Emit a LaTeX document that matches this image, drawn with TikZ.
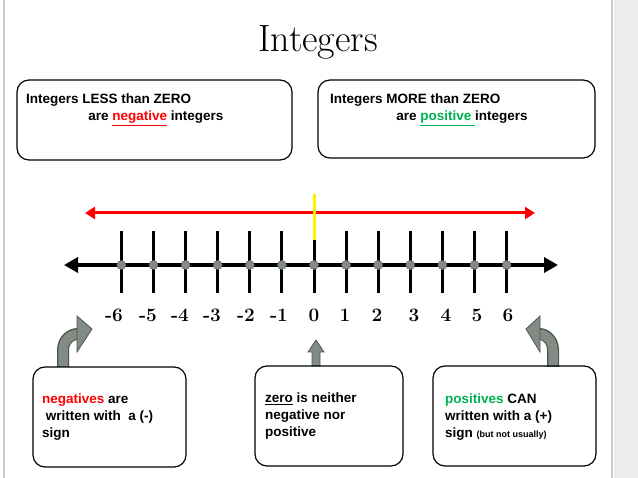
\documentclass[tikz,border=0pt]{standalone}
\usepackage{fontspec}
\setsansfont{Liberation Sans}
\usetikzlibrary{arrows.meta}
\definecolor{fatgray}{RGB}{130,140,132}
\definecolor{okgreen}{RGB}{0,176,80}
\begin{document}
\begin{tikzpicture}[x=1pt,y=-1pt,
  box/.style={draw,line width=1.2pt,rounded corners=12pt},
  txt/.style={font=\sffamily\bfseries\fontsize{13.5}{17}\selectfont,align=left,anchor=north west,inner sep=0},
  tick/.style={line width=3pt},
  dot/.style={circle,fill=fatgray,draw=fatgray!70!black,inner sep=0,minimum size=9pt},
  num/.style={font=\bfseries\fontsize{19}{19}\selectfont}]
\useasboundingbox (0,0) rectangle (638,478);
\fill[gray!15] (614,0) rectangle (638,478);
\draw[gray!40,line width=1.5pt] (4,0) -- (4,478) (612,0) -- (612,478);
\node[font=\fontsize{38}{38}\selectfont] (title) at (318,42) {Integers};
% top boxes
\draw[box] (17,80) rectangle (292,160);
\node[txt] (tl) at (26,94) {Integers LESS than ZERO\\\hspace{4.6em}are \textcolor{red}{\underline{negative}} integers};
\draw[box] (318,80) rectangle (595,158);
\node[txt] (tr) at (330,94) {Integers MORE than ZERO\\\hspace{4.9em}are \textcolor{okgreen}{\underline{positive }}integers};
% red arrow
\coordinate (rl) at (85,213); \coordinate (rr) at (535,213);
\draw[red,line width=3pt,{Triangle[length=10pt,width=12pt]}-{Triangle[length=10pt,width=12pt]}] (rl) -- (rr);
% number line
\coordinate (al) at (64,265); \coordinate (ar) at (558,265);
\draw[line width=4pt,{Triangle[length=14pt,width=15pt]}-{Triangle[length=14pt,width=15pt]}] (al) -- (ar);
\foreach \i in {-6,...,6}{
  \pgfmathsetmacro\xx{314+32.1*\i}
  \draw[tick] (\xx,231) -- (\xx,293);
  \node[dot] (d\i) at (\xx,265) {};
}
\draw[yellow,line width=3pt] (314,194) -- (314,240);
\foreach \i/\xx in {-6/114,-5/148,-4/180,-3/212,-2/246,-1/279,0/314,1/345,2/377,3/414,4/446,5/477,6/508}
  \node[num] (n\i) at (\xx,315) {\i};
% fat arrows
\coordinate (lb) at (63,367); \coordinate (rb) at (553,367); \coordinate (mb) at (316,366);
\draw[fatgray!60!black,line width=12pt] (lb) -- (63,350) to[out=90,in=180] (78,334);
\draw[fatgray,line width=9.5pt] (lb) -- (63,350) to[out=90,in=180] (79,334);
\filldraw[fill=fatgray,draw=fatgray!60!black,line width=0.8pt] (77,316) -- (92,329) -- (77,352) -- cycle;
\draw[fatgray!60!black,line width=12pt] (rb) -- (553,350) to[out=90,in=0] (539,334);
\draw[fatgray,line width=9.5pt] (rb) -- (553,350) to[out=90,in=0] (538,334);
\filldraw[fill=fatgray,draw=fatgray!60!black,line width=0.8pt] (540,316) -- (526,329) -- (540,352) -- cycle;
\filldraw[fill=fatgray,draw=fatgray!60!black,line width=0.8pt] (312,366) -- (312,352) -- (308,352) -- (316,340) -- (324,352) -- (320,352) -- (320,366) -- cycle;
% bottom boxes
\draw[box] (33,367) rectangle (186,467);
\node[txt] (bl) at (42,394) {\textcolor{red}{negatives} are\\\ written with\ \ a (-)\\sign};
\draw[box] (255,366) rectangle (403,466);
\node[txt] (bm) at (265,393) {\underline{zero} is neither\\negative nor\\positive};
\draw[box] (433,366) rectangle (596,466);
\node[txt] (br) at (445,394) {\textcolor{okgreen}{positives} CAN\\written with a (+)\\sign {\fontsize{9}{10}\selectfont(but not usually)}};
\end{tikzpicture}
\end{document}
